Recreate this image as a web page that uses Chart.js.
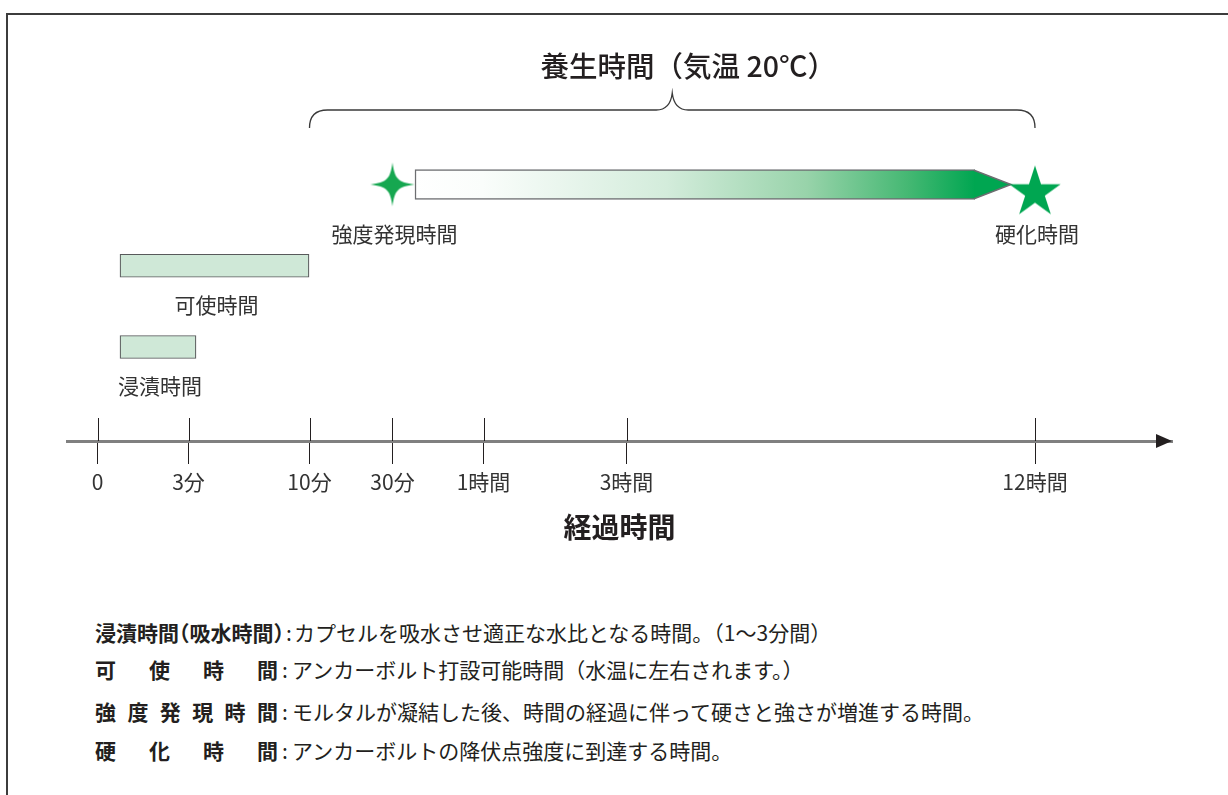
<!DOCTYPE html>
<html lang="ja">
<head>
<meta charset="utf-8">
<script src="https://cdn.jsdelivr.net/npm/chart.js@4/dist/chart.umd.min.js"></script>
<style>
html,body{margin:0;padding:0;background:#fff;}
#wrap{position:relative;width:1228px;height:795px;overflow:hidden;background:#fff;font-family:"Noto Sans CJK JP","Noto Sans",sans-serif;}
#frame{position:absolute;left:6px;top:13px;width:1240px;height:800px;border-top:2px solid #3c3c3c;border-left:2px solid #3c3c3c;box-sizing:border-box;}
#c{position:absolute;left:0;top:0;}
.note{position:absolute;left:95px;font-size:21px;color:#231f20;white-space:nowrap;line-height:24px;display:flex;}
.note .lab{font-weight:bold;display:inline-block;font-feature-settings:"halt";}
.note .lab.j{width:183px;text-align:justify;text-align-last:justify;}
.note .colon{display:inline-block;width:14px;text-align:center;}
</style>
</head>
<body>
<div id="wrap">
<div id="frame"></div>
<canvas id="c" width="1228" height="560"></canvas>
<div id="notes"></div>
</div>
<script>
// ---- data ----
const tickLabels = ['0','3分','10分','30分','1時間','3時間','12時間'];
const tickPos = [0, 9.1, 21.2, 29.5, 38.6, 52.9, 93.75];   // schematic time positions
const barLabels = ['強度発現時間','可使時間','浸漬時間'];
const barRow = [0, 1, 2];
const barStart = [31.75, 2.25, 2.25];
const barEnd = [87.75, 21.15, 9.85];
const arrowTipPos = 91.35;
const markerLabels = ['強度発現時間','硬化時間'];
const markerPos = [29.5, 93.75];
const braceFrom = 21.2, braceTo = 93.75;
const braceTitle = '養生時間（気温 20℃）';
const axisTitle = '経過時間';
const noteTerms = ['浸漬時間（吸水時間）','可使時間','強度発現時間','硬化時間'];
const noteTexts = ['カプセルを吸水させ適正な水比となる時間。（1〜3分間）',
  'アンカーボルト打設可能時間（水温に左右されます。）',
  'モルタルが凝結した後、時間の経過に伴って硬さと強さが増進する時間。',
  'アンカーボルトの降伏点強度に到達する時間。'];

// ---- notes (HTML text) ----
const noteTops = [620, 657, 699, 738];
const notesEl = document.getElementById('notes');
noteTerms.forEach((t, i) => {
  const row = document.createElement('div');
  row.className = 'note';
  row.style.top = noteTops[i] + 'px';
  const lab = document.createElement('span');
  lab.className = 'lab' + (i > 0 ? ' j' : '');
  lab.textContent = t;
  const col = document.createElement('span');
  col.className = 'colon';
  col.textContent = ':';
  if (i === 0) col.style.width = '10px';
  const tx = document.createElement('span');
  tx.textContent = noteTexts[i];
  row.appendChild(lab); row.appendChild(col); row.appendChild(tx);
  notesEl.appendChild(row);
});

// ---- marker images ----
const GREEN = '#00a651';
function sparkle() {
  const c = document.createElement('canvas'); c.width = 48; c.height = 48;
  const g = c.getContext('2d'); const cx = 24, cy = 24, R = 22, a = 2.2, b = 5.5;
  g.fillStyle = '#16a750';
  g.beginPath(); g.moveTo(cx, cy - R);
  g.bezierCurveTo(cx + a, cy - b, cx + b, cy - a, cx + R, cy);
  g.bezierCurveTo(cx + b, cy + a, cx + a, cy + b, cx, cy + R);
  g.bezierCurveTo(cx - a, cy + b, cx - b, cy + a, cx - R, cy);
  g.bezierCurveTo(cx - b, cy - a, cx - a, cy - b, cx, cy - R);
  g.closePath(); g.fill();
  return c;
}
function star5() {
  const c = document.createElement('canvas'); c.width = 60; c.height = 64;
  const g = c.getContext('2d'); const cx = 30, cy = 40, R = 27, r = R * 0.382;
  g.fillStyle = GREEN; g.beginPath();
  for (let i = 0; i < 10; i++) {
    const a = -Math.PI / 2 + i * Math.PI / 5; const rr = i % 2 ? r : R;
    const px = cx + rr * Math.cos(a), py = cy + rr * Math.sin(a);
    i ? g.lineTo(px, py) : g.moveTo(px, py);
  }
  g.closePath(); g.fill();
  return c;
}
const markerImgs = [sparkle(), star5()];

const FONT = "'Noto Sans CJK JP','Noto Sans',sans-serif";
Chart.defaults.font.family = FONT;
const INK = '#231f20';

const diagram = {
  id: 'diagram',
  afterDatasetDraw(chart, args) {
    if (args.index !== 0) return;
    const el = args.meta.data[0];
    const xs = chart.scales.x;
    const ctx = chart.ctx;
    const top = el.y - el.height / 2, bot = el.y + el.height / 2;
    const tip = xs.getPixelForValue(arrowTipPos);
    ctx.save();
    ctx.fillStyle = GREEN;
    ctx.beginPath(); ctx.moveTo(el.x - 0.5, top + 0.75); ctx.lineTo(tip, el.y); ctx.lineTo(el.x - 0.5, bot - 0.75); ctx.closePath(); ctx.fill();
    ctx.strokeStyle = '#6d6e71'; ctx.lineWidth = 1.5;
    ctx.beginPath(); ctx.moveTo(el.x - 1, top + 0.75); ctx.lineTo(tip, el.y); ctx.lineTo(el.x - 1, bot - 0.75); ctx.stroke();
    ctx.restore();
  },
  afterDraw(chart) {
    const ctx = chart.ctx, xs = chart.scales.x, ys = chart.scales.y, area = chart.chartArea;
    ctx.save();
    // upper tick stubs
    ctx.strokeStyle = INK; ctx.lineWidth = 1;
    tickPos.forEach(v => {
      const x = Math.round(xs.getPixelForValue(v)) + 0.5;
      ctx.beginPath(); ctx.moveTo(x, area.bottom - 23); ctx.lineTo(x, area.bottom); ctx.stroke();
    });
    // axis arrow head
    ctx.fillStyle = INK;
    ctx.beginPath(); ctx.moveTo(area.right - 16, area.bottom - 7); ctx.lineTo(area.right, area.bottom); ctx.lineTo(area.right - 16, area.bottom + 7); ctx.closePath(); ctx.fill();
    // brace
    const xl = xs.getPixelForValue(braceFrom), xr = xs.getPixelForValue(braceTo), xm = (xl + xr) / 2;
    const by = 110, ey = 128, cy = 93;
    ctx.strokeStyle = '#3a3a3a'; ctx.lineWidth = 1.3;
    ctx.beginPath();
    ctx.moveTo(xl, ey); ctx.quadraticCurveTo(xl, by, xl + 18, by);
    ctx.lineTo(xm - 16, by); ctx.quadraticCurveTo(xm - 2, by, xm, cy);
    ctx.quadraticCurveTo(xm + 2, by, xm + 16, by);
    ctx.lineTo(xr - 18, by); ctx.quadraticCurveTo(xr, by, xr, ey);
    ctx.stroke();
    // brace title
    ctx.fillStyle = INK; ctx.textAlign = 'center'; ctx.textBaseline = 'middle';
    ctx.font = '500 28.5px ' + FONT;
    ctx.fillText(braceTitle, xm + 16, 66);
    // marker labels
    ctx.font = '21px ' + FONT; ctx.fillStyle = '#333';
    markerLabels.forEach((t, i) => {
      ctx.fillText(t, xs.getPixelForValue(markerPos[i]) + 2, ys.getPixelForValue(0) + 50);
    });
    // bar labels (rows 1,2)
    const meta = chart.getDatasetMeta(1);
    meta.data.forEach((el, i) => {
      const cx = (el.x + el.base) / 2;
      ctx.fillText(barLabels[i + 1], cx + 2, el.y + el.height / 2 + 28);
    });
    ctx.restore();
  }
};

const gradFill = (c) => {
  const chart = c.chart; const area = chart.chartArea;
  if (!area) return GREEN;
  const xs = chart.scales.x;
  const x0 = xs.getPixelForValue(barStart[0]), x1 = xs.getPixelForValue(barEnd[0]);
  const g = chart.ctx.createLinearGradient(x0, 0, x1, 0);
  g.addColorStop(0, '#ffffff');
  g.addColorStop(0.12, '#fafdfb');
  g.addColorStop(0.45, '#d3ecdb');
  g.addColorStop(0.7, '#98d3aa');
  g.addColorStop(0.88, '#45b873');
  g.addColorStop(1, '#00a651');
  return g;
};

new Chart(document.getElementById('c'), {
  type: 'bar',
  data: {
    datasets: [
      {
        label: barLabels[0],
        data: [{ x: [barStart[0], barEnd[0]], y: barRow[0] }],
        backgroundColor: gradFill,
        borderColor: '#6d6e71', borderWidth: 1.5, borderSkipped: 'end',
        barThickness: 30, grouped: false, order: 2
      },
      {
        label: '範囲',
        data: [1, 2].map(i => ({ x: [barStart[i], barEnd[i]], y: barRow[i] })),
        backgroundColor: '#cfe8d7',
        borderColor: '#58595b', borderWidth: 1.2, borderSkipped: false,
        barThickness: 23, grouped: false, order: 2
      },
      {
        type: 'scatter',
        label: 'マーカー',
        data: markerPos.map(v => ({ x: v, y: barRow[0] })),
        pointStyle: markerImgs,
        pointRadius: 25, order: 0
      }
    ]
  },
  options: {
    responsive: false, animation: false, indexAxis: 'y',
    layout: { padding: { left: 67, right: 56, top: 103.25, bottom: 0 } },
    plugins: { legend: { display: false }, tooltip: { enabled: false } },
    scales: {
      x: {
        type: 'linear', min: -3.05, max: 107.45, position: 'bottom',
        afterBuildTicks: s => { s.ticks = tickPos.map(v => ({ value: v })); },
        afterFit: s => { s.height = 119; },
        grid: { drawOnChartArea: false, drawTicks: true, tickLength: 23, color: INK, lineWidth: 1 },
        border: { display: true, color: '#808080', width: 3 },
        ticks: { autoSkip: false, maxRotation: 0, padding: 5, color: '#333', font: { size: 21 },
          callback: (v, i) => tickLabels[i] },
        title: { display: true, text: axisTitle, color: INK, font: { size: 28, weight: 'bold' }, padding: { top: 0, bottom: 16 } }
      },
      y: { type: 'linear', reverse: true, min: -1, max: 3.157, offset: false, display: false }
    }
  },
  plugins: [diagram]
});
</script>
</body>
</html>
